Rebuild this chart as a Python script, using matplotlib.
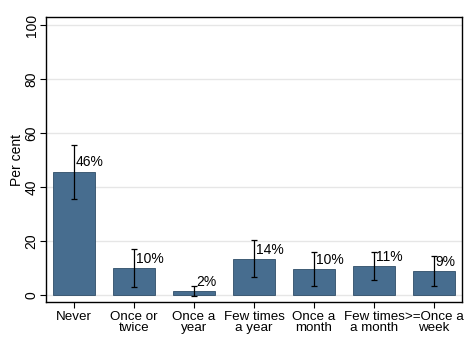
import matplotlib
matplotlib.use("Agg")
import matplotlib.pyplot as plt
import numpy as np

categories = ["Never", "Once or\ntwice", "Once a\nyear", "Few times\na year", "Once a\nmonth", "Few times\na month", ">=Once a\nweek"]
values = [45.7, 10.0, 1.5, 13.4, 9.5, 10.6, 9.0]
ci_low = [35.5, 3.0, -0.4, 6.5, 3.3, 5.4, 3.2]
ci_high = [55.7, 16.9, 3.2, 20.4, 15.8, 16.0, 14.6]
labels = ["46%", "10%", "2%", "14%", "10%", "11%", "9%"]
yticks = [0, 20, 40, 60, 80, 100]

plt.rcParams['font.family'] = ['Liberation Sans', 'DejaVu Sans']
fs = 10.0
fig = plt.figure(figsize=(4.71, 3.51), dpi=100)
ax = fig.add_axes([46/471, 1 - 302/351, (462-46)/471, (302-17)/351])

x = np.arange(len(categories))
ax.bar(x, values, width=0.7, color='#476d8f', edgecolor='#2f4d68', linewidth=0.6, zorder=2)
vals = np.array(values)
err = [vals - np.array(ci_low), np.array(ci_high) - vals]
ax.errorbar(x, vals, yerr=err, fmt='none', ecolor='black', elinewidth=0.9, capsize=2.2, capthick=0.9, zorder=3)
for xi, v, lab in zip(x, values, labels):
    ax.text(xi + 0.03, v + 0.8, lab, ha='left', va='bottom', fontsize=fs, zorder=4)

ax.set_xlim(-0.467, 6.467)
ax.set_ylim(-2.6, 103)
ax.set_yticks(yticks)
ax.set_yticklabels([str(t) for t in yticks], rotation=90, va='center', fontsize=fs)
ax.set_xticks(x)
ax.set_xticklabels(categories, fontsize=9.6, linespacing=0.95)
ax.grid(axis='y', color='#e6e6e6', linewidth=1.0, zorder=0)
ax.set_axisbelow(True)
ax.tick_params(axis='both', direction='out', length=4.3, width=0.8, color='black', pad=2)
ax.tick_params(axis='y', pad=1)
for s in ax.spines.values():
    s.set_color('black')
    s.set_linewidth(1.0)
ax.set_ylabel("Per cent", fontsize=fs)
ax.yaxis.set_label_coords(-0.053, 0.5)
fig.savefig("out.png", dpi=100, facecolor='white')
